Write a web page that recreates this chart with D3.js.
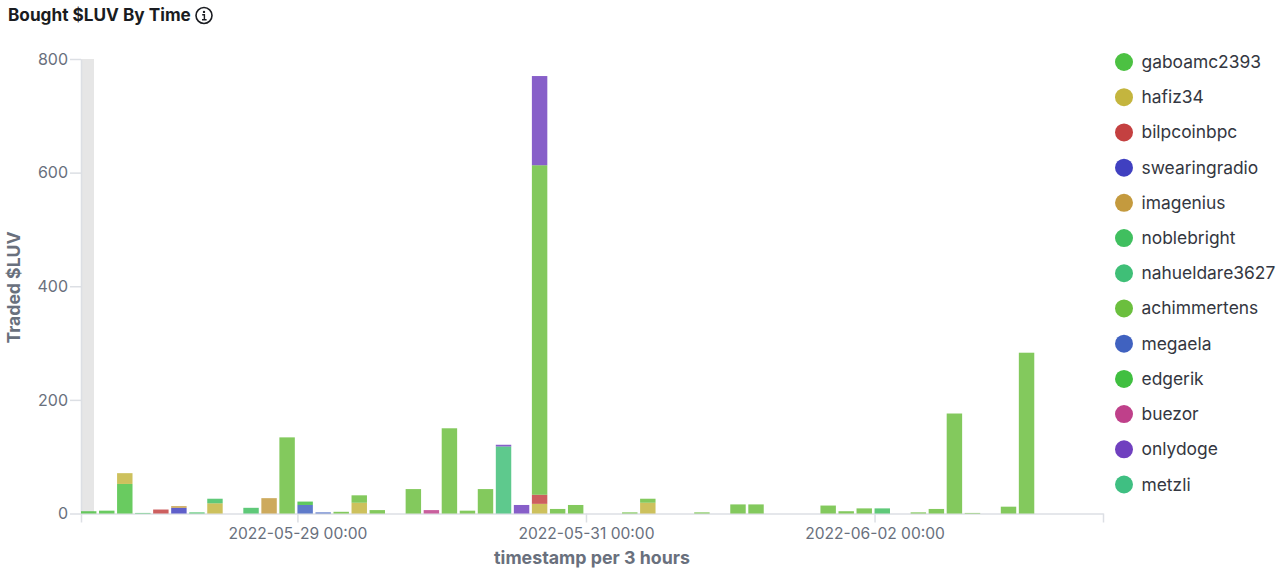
<!DOCTYPE html>
<html>
<head>
<meta charset="utf-8">
<script src="https://cdn.jsdelivr.net/npm/d3@7"></script>
<style>
html, body { margin:0; padding:0; background:#fff; overflow:hidden; }
svg { display:block; font-family:Inter, "Noto Sans", sans-serif; }
.axis path, .axis line { stroke:#dcdfe4; stroke-width:1.5; }
.axis text { fill:#69707d; font-size:16px; font-family:Inter, "Noto Sans", sans-serif; }
.xaxis text { font-size:15.6px; }
</style>
</head>
<body>
<svg width="1280" height="568"></svg>
<script>
// one row per 3 hour bucket, starting at 2022-05-27 12:00 UTC
var startTime = Date.UTC(2022, 4, 27, 12);
var endTime = Date.UTC(2022, 5, 3, 14);
var bucketMs = 3 * 3600 * 1000;

var userNames = ["gaboamc2393","hafiz34","bilpcoinbpc","swearingradio","imagenius","noblebright","nahueldare3627","achimmertens","megaela","edgerik","buezor","onlydoge","metzli"];
var userColors = ["#4cc142","#c4b53e","#c44040","#4040c0","#c49a3e","#40bf5f","#3fbf77","#6bbf3e","#4062c0","#40bf40","#bf408a","#7040bf","#3fbf82"];

var gaboamc2393    = [4,5,52,0,0,0,0,0,0,0,0,0,0,0,0,0,0,0,0,0,0,0,0,0,0,0,0,0,0,0,0,0,0,0,0,0,0,0,0,0,0,0,0,0,0,0,0,0,0,0,0,0,0];
var hafiz34        = [0,0,19,0,0,0,0,18,0,0,0,0,0,0,0,19,0,0,0,0,0,0,0,0,0,17,0,0,0,0,0,19,0,0,0,0,0,0,0,0,0,0,0,0,0,0,0,0,0,0,0,0,0];
var bilpcoinbpc    = [0,0,0,0,7,0,0,0,0,0,0,0,0,0,0,0,0,0,0,0,0,0,0,0,0,16,0,0,0,0,0,0,0,0,0,0,0,0,0,0,0,0,0,0,0,0,0,0,0,0,0,0,0];
var swearingradio  = [0,0,0,0,0,10,0,0,0,0,0,0,0,0,0,0,0,0,0,0,0,0,0,0,0,0,0,0,0,0,0,0,0,0,0,0,0,0,0,0,0,0,0,0,0,0,0,0,0,0,0,0,0];
var imagenius      = [0,0,0,0,0,3,0,0,0,0,27,0,0,0,0,0,0,0,0,0,0,0,0,0,0,0,0,0,0,0,0,0,0,0,0,0,0,0,0,0,0,0,0,0,0,0,0,0,0,0,0,0,0];
var noblebright    = [0,0,0,1,0,0,2,8,0,10,0,0,0,0,0,0,0,0,0,0,0,0,0,0,0,0,0,0,0,0,0,0,0,0,0,0,0,0,0,0,0,0,0,0,9,0,0,0,0,0,0,0,0];
var nahueldare3627 = [0,0,0,0,0,0,0,0,0,0,0,0,0,0,0,0,0,0,0,0,0,0,0,118,0,0,0,0,0,0,0,0,0,0,0,0,0,0,0,0,0,0,0,0,0,0,0,0,0,0,0,0,0];
var achimmertens   = [0,0,0,0,0,0,0,0,0,0,0,134,0,0,3,13,6,0,43,0,150,5,43,0,0,580,8,15,0,0,2,7,0,0,2,0,16,16,0,0,0,14,4,9,0,0,2,8,176,1,0,12,283];
var megaela        = [0,0,0,0,0,0,0,0,0,0,0,0,15,2,0,0,0,0,0,0,0,0,0,0,0,0,0,0,0,0,0,0,0,0,0,0,0,0,0,0,0,0,0,0,0,0,0,0,0,0,0,0,0];
var edgerik        = [0,0,0,0,0,0,0,0,0,0,0,0,6,0,0,0,0,0,0,0,0,0,0,0,0,0,0,0,0,0,0,0,0,0,0,0,0,0,0,0,0,0,0,0,0,0,0,0,0,0,0,0,0];
var buezor         = [0,0,0,0,0,0,0,0,0,0,0,0,0,0,0,0,0,0,0,6,0,0,0,0,0,0,0,0,0,0,0,0,0,0,0,0,0,0,0,0,0,0,0,0,0,0,0,0,0,0,0,0,0];
var onlydoge       = [0,0,0,0,0,0,0,0,0,0,0,0,0,0,0,0,0,0,0,0,0,0,0,3,15,157,0,0,0,0,0,0,0,0,0,0,0,0,0,0,0,0,0,0,0,0,0,0,0,0,0,0,0];
var metzli         = [0,0,0,0,0,0,0,0,0,0,0,0,0,0,0,0,0,0,0,0,0,0,0,0,0,0,0,0,0,0,0,0,0,0,0,0,0,0,0,0,0,0,0,0,0,0,0,0,0,0,0,0,0];

var userValues = [gaboamc2393,hafiz34,bilpcoinbpc,swearingradio,imagenius,noblebright,nahueldare3627,achimmertens,megaela,edgerik,buezor,onlydoge,metzli];

var yTicks = [0,200,400,600,800];
var xLabelTicks = [Date.UTC(2022,4,29), Date.UTC(2022,4,31), Date.UTC(2022,5,2)];
var highlightEnd = startTime + 2.16 * 3600 * 1000; // grey band at the left edge

var svg = d3.select("svg");
var x = d3.scaleUtc().domain([startTime, endTime]).range([81, 1103]);
var y = d3.scaleLinear().domain([0, 800]).range([513.5, 59]);
var color = d3.scaleOrdinal().domain(userNames).range(userColors);

// build rows for the stack
var rows = userValues[0].map(function(_, i) {
	var row = { time: startTime + i * bucketMs };
	userNames.forEach(function(name, s) { row[name] = userValues[s][i]; });
	return row;
});
var stacked = d3.stack().keys(userNames)(rows);

// title + info icon
svg.append("text").attr("x", 8).attr("y", 21)
	.attr("font-size", 17.2).attr("font-weight", 700).attr("fill", "#1a1c21")
	.text("Bought $LUV By Time");
var icon = svg.append("g").attr("transform", "translate(204,15.5)");
icon.append("circle").attr("r", 8).attr("fill", "none").attr("stroke", "#1a1c21").attr("stroke-width", 1.6);
icon.append("circle").attr("cy", -3.6).attr("r", 1.2).attr("fill", "#1a1c21");
icon.append("path").attr("d", "M-1.8,-0.8H0.4V4M-2,4.2H2.6").attr("fill", "none").attr("stroke", "#1a1c21").attr("stroke-width", 1.4);

// grey band
svg.append("rect")
	.attr("x", x(startTime)).attr("y", y(800))
	.attr("width", x(highlightEnd) - x(startTime))
	.attr("height", y(0) - y(800))
	.attr("fill", "#e6e6e6");

// axes
var yAxis = d3.axisLeft(y).tickValues(yTicks).tickSize(11).tickPadding(2).tickSizeOuter(0);
var gy = svg.append("g").attr("class", "axis").attr("transform", "translate(81,0)").call(yAxis);

var xAxis = d3.axisBottom(x)
	.tickValues([startTime].concat(xLabelTicks, [endTime]))
	.tickSize(9).tickPadding(5).tickSizeOuter(0)
	.tickFormat(function(d) {
		var t = +d;
		if (t == startTime || t == endTime) return "";
		return d3.utcFormat("%Y-%m-%d %H:%M")(d);
	});
var gx = svg.append("g").attr("class", "axis xaxis").attr("transform", "translate(0,513.5)").call(xAxis);

// bars
svg.append("g").selectAll("g").data(stacked).enter().append("g")
	.attr("fill", function(d) { return color(d.key); })
	.selectAll("rect")
	.data(function(d) { return d.filter(function(v) { return v[1] > v[0]; }); })
	.enter().append("rect")
	.attr("x", function(d) { return x(d.data.time); })
	.attr("width", function(d) { return x(d.data.time + bucketMs) - x(d.data.time) - 2.6; })
	.attr("y", function(d) { return y(d[1]); })
	.attr("height", function(d) { return y(d[0]) - y(d[1]); })
	.attr("fill-opacity", 0.84);

// axis titles
svg.append("text").attr("transform", "translate(20,287.5) rotate(-90)")
	.attr("text-anchor", "middle").attr("font-size", 17.6).attr("font-weight", 700).attr("fill", "#69707d")
	.text("Traded $LUV");
svg.append("text").attr("x", 592).attr("y", 564)
	.attr("text-anchor", "middle").attr("font-size", 17.8).attr("font-weight", 700).attr("fill", "#69707d")
	.text("timestamp per 3 hours");

// legend
var legendY = d3.scalePoint().domain(userNames).range([62, 484.5]);
var legend = svg.append("g").selectAll("g").data(userNames).enter().append("g")
	.attr("transform", function(d) { return "translate(1124," + legendY(d) + ")"; });
legend.append("circle").attr("r", 9).attr("fill", function(d) { return color(d); });
legend.append("text").attr("x", 17.5).attr("y", 6)
	.attr("font-size", 17.4).attr("fill", "#343741")
	.text(function(d) { return d; });
</script>
</body>
</html>
